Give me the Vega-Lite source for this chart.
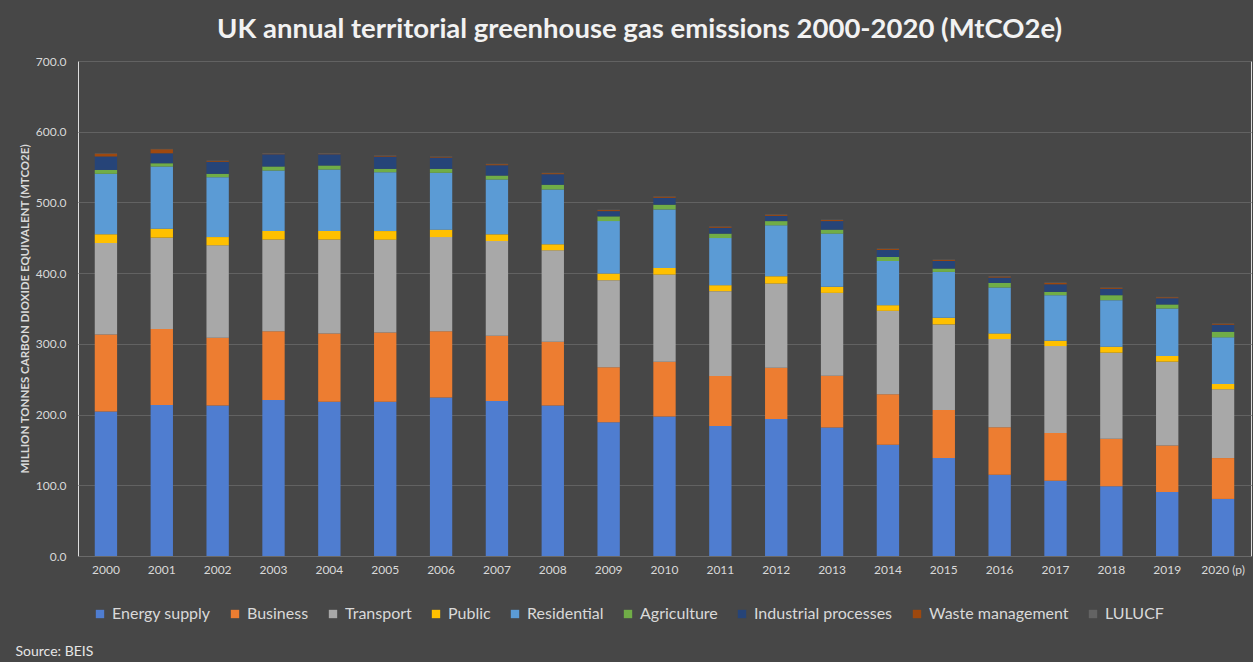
{
  "$schema": "https://vega.github.io/schema/vega-lite/v6.json",
  "width": 1173,
  "height": 495,
  "autosize": {"type": "none"},
  "padding": {"left": 78, "top": 61, "right": 2, "bottom": 106},
  "background": "#474747",
  "title": {
    "text": "UK annual territorial greenhouse gas emissions 2000-2020 (MtCO2e)",
    "font": "Lato",
    "fontSize": 27.5,
    "fontWeight": "bold",
    "color": "#f2f2f2",
    "anchor": "middle",
    "dx": -25,
    "offset": 12
  },
  "datasets": {
    "sectors": [
      {"sector":"Energy supply","k":1},{"sector":"Business","k":2},{"sector":"Transport","k":3},{"sector":"Public","k":4},{"sector":"Residential","k":5},{"sector":"Agriculture","k":6},{"sector":"Industrial processes","k":7},{"sector":"Waste management","k":8},{"sector":"LULUCF","k":9}
    ]
  },
  "data": {
    "values": [
      {"year":"2000","sector":"Energy supply","value":204.2},{"year":"2000","sector":"Business","value":109.2},{"year":"2000","sector":"Transport","value":129.2},{"year":"2000","sector":"Public","value":12.4},{"year":"2000","sector":"Residential","value":85.5},{"year":"2000","sector":"Agriculture","value":5.5},{"year":"2000","sector":"Industrial processes","value":19.0},{"year":"2000","sector":"Waste management","value":4.0},{"year":"2000","sector":"LULUCF","value":0.5},
      {"year":"2001","sector":"Energy supply","value":213.7},{"year":"2001","sector":"Business","value":107.2},{"year":"2001","sector":"Transport","value":129.3},{"year":"2001","sector":"Public","value":12.7},{"year":"2001","sector":"Residential","value":87.9},{"year":"2001","sector":"Agriculture","value":4.6},{"year":"2001","sector":"Industrial processes","value":14.1},{"year":"2001","sector":"Waste management","value":5.7},{"year":"2001","sector":"LULUCF","value":0.5},
      {"year":"2002","sector":"Energy supply","value":212.7},{"year":"2002","sector":"Business","value":95.9},{"year":"2002","sector":"Transport","value":130.8},{"year":"2002","sector":"Public","value":11.6},{"year":"2002","sector":"Residential","value":84.7},{"year":"2002","sector":"Agriculture","value":4.8},{"year":"2002","sector":"Industrial processes","value":17.0},{"year":"2002","sector":"Waste management","value":1.2},{"year":"2002","sector":"LULUCF","value":0.5},
      {"year":"2003","sector":"Energy supply","value":220.7},{"year":"2003","sector":"Business","value":97.3},{"year":"2003","sector":"Transport","value":129.4},{"year":"2003","sector":"Public","value":12.1},{"year":"2003","sector":"Residential","value":85.6},{"year":"2003","sector":"Agriculture","value":5.7},{"year":"2003","sector":"Industrial processes","value":17.2},{"year":"2003","sector":"Waste management","value":1.0},{"year":"2003","sector":"LULUCF","value":0.5},
      {"year":"2004","sector":"Energy supply","value":218.3},{"year":"2004","sector":"Business","value":96.5},{"year":"2004","sector":"Transport","value":132.6},{"year":"2004","sector":"Public","value":12.1},{"year":"2004","sector":"Residential","value":87.0},{"year":"2004","sector":"Agriculture","value":5.7},{"year":"2004","sector":"Industrial processes","value":15.8},{"year":"2004","sector":"Waste management","value":1.0},{"year":"2004","sector":"LULUCF","value":0.5},
      {"year":"2005","sector":"Energy supply","value":218.3},{"year":"2005","sector":"Business","value":97.9},{"year":"2005","sector":"Transport","value":131.2},{"year":"2005","sector":"Public","value":12.1},{"year":"2005","sector":"Residential","value":83.2},{"year":"2005","sector":"Agriculture","value":4.8},{"year":"2005","sector":"Industrial processes","value":17.3},{"year":"2005","sector":"Waste management","value":1.0},{"year":"2005","sector":"LULUCF","value":0.5},
      {"year":"2006","sector":"Energy supply","value":224.0},{"year":"2006","sector":"Business","value":94.0},{"year":"2006","sector":"Transport","value":133.0},{"year":"2006","sector":"Public","value":10.5},{"year":"2006","sector":"Residential","value":80.4},{"year":"2006","sector":"Agriculture","value":5.6},{"year":"2006","sector":"Industrial processes","value":15.9},{"year":"2006","sector":"Waste management","value":1.0},{"year":"2006","sector":"LULUCF","value":0.5},
      {"year":"2007","sector":"Energy supply","value":219.3},{"year":"2007","sector":"Business","value":92.1},{"year":"2007","sector":"Transport","value":134.0},{"year":"2007","sector":"Public","value":9.5},{"year":"2007","sector":"Residential","value":77.5},{"year":"2007","sector":"Agriculture","value":5.6},{"year":"2007","sector":"Industrial processes","value":14.6},{"year":"2007","sector":"Waste management","value":1.5},{"year":"2007","sector":"LULUCF","value":0.5},
      {"year":"2008","sector":"Energy supply","value":212.7},{"year":"2008","sector":"Business","value":90.3},{"year":"2008","sector":"Transport","value":129.3},{"year":"2008","sector":"Public","value":8.5},{"year":"2008","sector":"Residential","value":77.5},{"year":"2008","sector":"Agriculture","value":6.7},{"year":"2008","sector":"Industrial processes","value":14.9},{"year":"2008","sector":"Waste management","value":1.5},{"year":"2008","sector":"LULUCF","value":0.5},
      {"year":"2009","sector":"Energy supply","value":189.3},{"year":"2009","sector":"Business","value":77.5},{"year":"2009","sector":"Transport","value":123.2},{"year":"2009","sector":"Public","value":9.4},{"year":"2009","sector":"Residential","value":74.2},{"year":"2009","sector":"Agriculture","value":6.7},{"year":"2009","sector":"Industrial processes","value":7.4},{"year":"2009","sector":"Waste management","value":1.5},{"year":"2009","sector":"LULUCF","value":0.5},
      {"year":"2010","sector":"Energy supply","value":197.2},{"year":"2010","sector":"Business","value":77.6},{"year":"2010","sector":"Transport","value":123.2},{"year":"2010","sector":"Public","value":9.3},{"year":"2010","sector":"Residential","value":82.8},{"year":"2010","sector":"Agriculture","value":6.7},{"year":"2010","sector":"Industrial processes","value":9.7},{"year":"2010","sector":"Waste management","value":1.5},{"year":"2010","sector":"LULUCF","value":0.5},
      {"year":"2011","sector":"Energy supply","value":184.0},{"year":"2011","sector":"Business","value":70.6},{"year":"2011","sector":"Transport","value":119.9},{"year":"2011","sector":"Public","value":8.5},{"year":"2011","sector":"Residential","value":66.6},{"year":"2011","sector":"Agriculture","value":6.3},{"year":"2011","sector":"Industrial processes","value":8.2},{"year":"2011","sector":"Waste management","value":1.5},{"year":"2011","sector":"LULUCF","value":0.5},
      {"year":"2012","sector":"Energy supply","value":193.9},{"year":"2012","sector":"Business","value":72.4},{"year":"2012","sector":"Transport","value":119.0},{"year":"2012","sector":"Public","value":10.3},{"year":"2012","sector":"Residential","value":72.0},{"year":"2012","sector":"Agriculture","value":6.0},{"year":"2012","sector":"Industrial processes","value":7.4},{"year":"2012","sector":"Waste management","value":1.5},{"year":"2012","sector":"LULUCF","value":0.5},
      {"year":"2013","sector":"Energy supply","value":181.7},{"year":"2013","sector":"Business","value":73.3},{"year":"2013","sector":"Transport","value":117.1},{"year":"2013","sector":"Public","value":8.5},{"year":"2013","sector":"Residential","value":75.3},{"year":"2013","sector":"Agriculture","value":5.6},{"year":"2013","sector":"Industrial processes","value":12.1},{"year":"2013","sector":"Waste management","value":1.5},{"year":"2013","sector":"LULUCF","value":0.5},
      {"year":"2014","sector":"Energy supply","value":157.3},{"year":"2014","sector":"Business","value":71.5},{"year":"2014","sector":"Transport","value":117.9},{"year":"2014","sector":"Public","value":8.0},{"year":"2014","sector":"Residential","value":62.5},{"year":"2014","sector":"Agriculture","value":5.6},{"year":"2014","sector":"Industrial processes","value":10.0},{"year":"2014","sector":"Waste management","value":1.4},{"year":"2014","sector":"LULUCF","value":0.5},
      {"year":"2015","sector":"Energy supply","value":138.5},{"year":"2015","sector":"Business","value":68.1},{"year":"2015","sector":"Transport","value":120.9},{"year":"2015","sector":"Public","value":9.3},{"year":"2015","sector":"Residential","value":64.9},{"year":"2015","sector":"Agriculture","value":4.8},{"year":"2015","sector":"Industrial processes","value":10.8},{"year":"2015","sector":"Waste management","value":1.4},{"year":"2015","sector":"LULUCF","value":0.5},
      {"year":"2016","sector":"Energy supply","value":115.0},{"year":"2016","sector":"Business","value":67.2},{"year":"2016","sector":"Transport","value":124.6},{"year":"2016","sector":"Public","value":8.0},{"year":"2016","sector":"Residential","value":64.9},{"year":"2016","sector":"Agriculture","value":6.5},{"year":"2016","sector":"Industrial processes","value":7.5},{"year":"2016","sector":"Waste management","value":1.4},{"year":"2016","sector":"LULUCF","value":0.5},
      {"year":"2017","sector":"Energy supply","value":106.5},{"year":"2017","sector":"Business","value":67.3},{"year":"2017","sector":"Transport","value":123.1},{"year":"2017","sector":"Public","value":7.5},{"year":"2017","sector":"Residential","value":64.4},{"year":"2017","sector":"Agriculture","value":4.7},{"year":"2017","sector":"Industrial processes","value":10.7},{"year":"2017","sector":"Waste management","value":2.0},{"year":"2017","sector":"LULUCF","value":0.5},
      {"year":"2018","sector":"Energy supply","value":98.5},{"year":"2018","sector":"Business","value":67.2},{"year":"2018","sector":"Transport","value":121.8},{"year":"2018","sector":"Public","value":8.4},{"year":"2018","sector":"Residential","value":65.9},{"year":"2018","sector":"Agriculture","value":7.0},{"year":"2018","sector":"Industrial processes","value":9.0},{"year":"2018","sector":"Waste management","value":1.4},{"year":"2018","sector":"LULUCF","value":0.5},
      {"year":"2019","sector":"Energy supply","value":90.5},{"year":"2019","sector":"Business","value":65.8},{"year":"2019","sector":"Transport","value":118.5},{"year":"2019","sector":"Public","value":8.0},{"year":"2019","sector":"Residential","value":67.2},{"year":"2019","sector":"Agriculture","value":5.7},{"year":"2019","sector":"Industrial processes","value":8.8},{"year":"2019","sector":"Waste management","value":1.4},{"year":"2019","sector":"LULUCF","value":0.5},
      {"year":"2020 (p)","sector":"Energy supply","value":80.7},{"year":"2020 (p)","sector":"Business","value":57.8},{"year":"2020 (p)","sector":"Transport","value":97.3},{"year":"2020 (p)","sector":"Public","value":7.5},{"year":"2020 (p)","sector":"Residential","value":65.9},{"year":"2020 (p)","sector":"Agriculture","value":7.9},{"year":"2020 (p)","sector":"Industrial processes","value":9.9},{"year":"2020 (p)","sector":"Waste management","value":1.4},{"year":"2020 (p)","sector":"LULUCF","value":0.5}
    ]
  },
  "transform": [
    {"lookup": "sector", "from": {"data": {"name": "sectors"}, "key": "sector", "fields": ["k"]}}
  ],
  "mark": {"type": "bar"},
  "encoding": {
    "x": {
      "field": "year",
      "type": "nominal",
      "sort": null,
      "scale": {"paddingInner": 0.6, "paddingOuter": 0.3},
      "axis": {
        "title": "Source: BEIS",
        "titleFont": "Lato",
        "titleFontSize": 14,
        "titleFontWeight": "normal",
        "titleColor": "#e6e6e6",
        "titleAnchor": "start",
        "titleAlign": "left",
        "titleX": -63,
        "titleY": 95,
        "titleBaseline": "middle",
        "labelAngle": 0,
        "labelFont": "Lato",
        "labelFontSize": 12,
        "labelColor": "#d9d9d9",
        "labelPadding": 8,
        "ticks": false,
        "domain": true,
        "domainColor": "#6a6a6a",
        "grid": false
      }
    },
    "y": {
      "field": "value",
      "type": "quantitative",
      "stack": "zero",
      "scale": {"domain": [0, 700]},
      "axis": {
        "values": [0, 100, 200, 300, 400, 500, 600, 700],
        "format": ".1f",
        "title": "MILLION TONNES CARBON DIOXIDE EQUIVALENT (MTCO2E)",
        "titleFont": "Lato",
        "titleFontSize": 11.5,
        "titleFontWeight": "bold",
        "titleColor": "#d9d9d9",
        "titleAnchor": "middle",
        "titlePadding": 5,
        "labelFont": "Lato",
        "labelFontSize": 12,
        "labelColor": "#d9d9d9",
        "labelPadding": 12,
        "ticks": false,
        "domain": false,
        "grid": true,
        "gridColor": "#626262",
        "gridWidth": 1
      }
    },
    "color": {
      "field": "sector",
      "type": "nominal",
      "scale": {
        "domain": ["Energy supply", "Business", "Transport", "Public", "Residential", "Agriculture", "Industrial processes", "Waste management", "LULUCF"],
        "range": ["#4F7DD0", "#ED7D31", "#A8A8A8", "#FFC000", "#5B9BD5", "#70AD47", "#264478", "#9E480E", "#636363"]
      },
      "legend": {
        "orient": "none",
        "direction": "horizontal",
        "legendX": 14,
        "legendY": 545,
        "title": null,
        "symbolType": "square",
        "symbolSize": 70,
        "symbolStrokeWidth": 0,
        "labelFont": "Lato",
        "labelFontSize": 16,
        "labelColor": "#d9d9d9",
        "labelOffset": 4,
        "columnPadding": 16,
        "labelLimit": 300
      }
    },
    "order": {"field": "k", "type": "quantitative", "sort": "ascending"}
  }
}
